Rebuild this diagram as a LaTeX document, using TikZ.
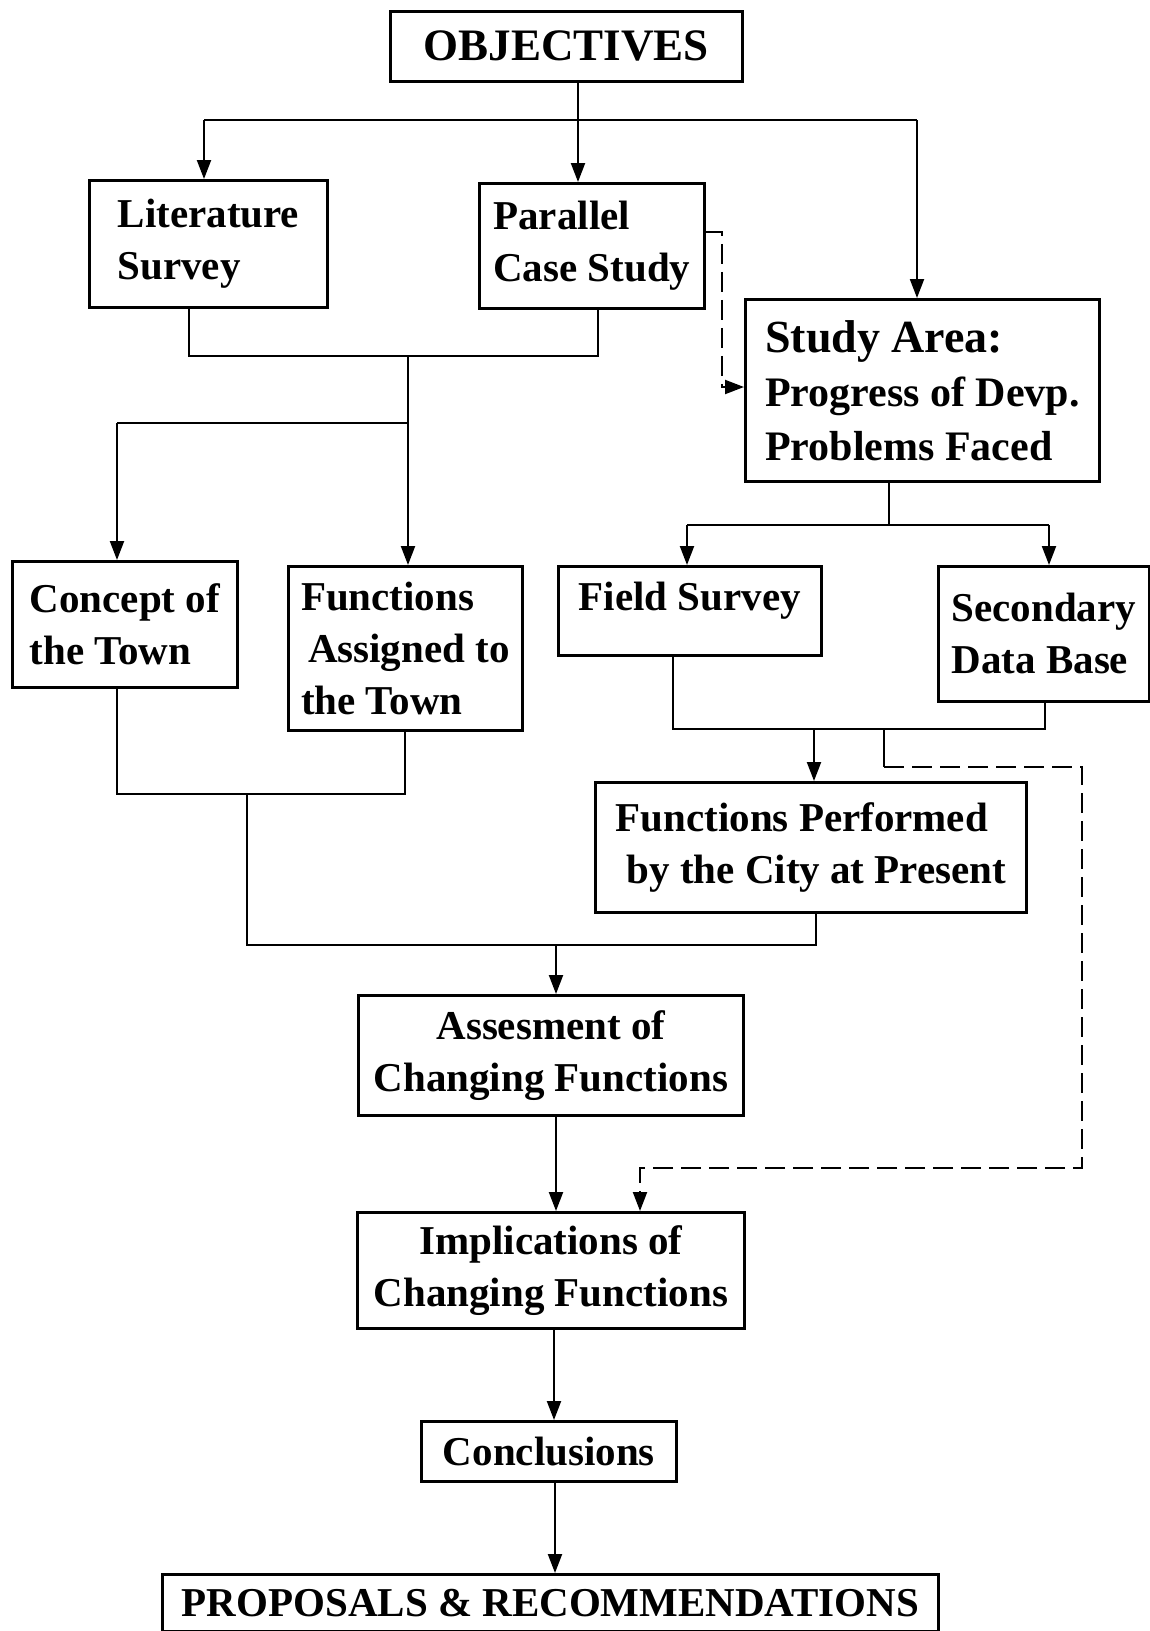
\documentclass[tikz,border=0pt]{standalone}
\usepackage{fontspec}
\setmainfont{Liberation Serif}
\usetikzlibrary{arrows.meta}
\begin{document}
\begin{tikzpicture}[x=1pt,y=-1pt,
  box/.style={draw, line width=2.8pt, inner sep=0pt, anchor=north west, align=left,
    font=\bfseries\fontsize{41}{52}\selectfont},
  conn/.style={line width=2.1pt},
  arr/.style={conn, -{Triangle[length=19pt,width=14pt]}},
  dline/.style={line width=2.1pt, dash pattern=on 20pt off 8pt}
]
\useasboundingbox (0,0) rectangle (1150,1631);
\fill[white] (0,0) rectangle (1150,1631);

% boxes
\node[box, minimum width=352pt, minimum height=70pt, font=\bfseries\fontsize{45}{52}\selectfont] (obj) at (389,10) {OBJECTIVES};
\node[box, minimum width=238pt, minimum height=127pt] (lit) at (88,179) {Literature\\Survey};
\node[box, minimum width=225pt, minimum height=125pt] (par) at (478,182) {Parallel\\Case Study};
\node[box, minimum width=354pt, minimum height=182pt, font=\bfseries\fontsize{42}{54}\selectfont] (study) at (744,298)
  {{\fontsize{46}{54}\selectfont Study Area:}\\Progress of Devp.\\Problems Faced};
\node[box, minimum width=225pt, minimum height=126pt] (concept) at (11,560) {Concept of\\the Town};
\node[box, minimum width=234pt, minimum height=164pt] (fassign) at (287,565) {Functions\\\hspace{7pt}Assigned to\\the Town};
\node[box, minimum width=263pt, minimum height=89pt] (field) at (557,565) {\raisebox{30pt}{Field Survey}};
\node[box, minimum width=211pt, minimum height=135pt] (second) at (937,565) {Secondary\\Data Base};
\node[box, minimum width=431pt, minimum height=130pt] (fperf) at (594,781) {Functions Performed\\\hspace{11pt}by the City at Present};
\node[box, minimum width=385pt, minimum height=120pt, align=center] (assess) at (357,994) {Assesment of\\Changing Functions};
\node[box, minimum width=387pt, minimum height=116pt, align=center] (impl) at (356,1211) {Implications of\\Changing Functions};
\node[box, minimum width=255pt, minimum height=60pt, align=center] (concl) at (420,1420) {Conclusions};
\node[box, minimum width=776pt, minimum height=57pt, align=center] (prop) at (161,1573) {PROPOSALS \& RECOMMENDATIONS};

% junction coordinates
\coordinate (j1l) at (204,120);
\coordinate (j1r) at (917,120);
\coordinate (j2) at (408,356);
\coordinate (j3) at (408,423);
\coordinate (j4) at (889,525);
\coordinate (j5) at (814,729);
\coordinate (j6) at (247,794);
\coordinate (j7) at (556,945);

% objectives
\draw[arr] (578,0 |- obj.south) -- (578,0 |- par.north);
\draw[conn] (j1l) -- (j1r);
\draw[arr] (j1l) -- (j1l |- lit.north);
\draw[arr] (j1r) -- (j1r |- study.north);

% parallel -> study (dashed)
\draw[dline, -{Triangle[length=19pt,width=14pt]}] (par.east |- 0,232) -- (722,232) -- (722,387) -- (study.west |- 0,387);

% lit/par merge
\draw[conn] (189,0 |- lit.south) -- (189,356) -- (598,356) -- (598,0 |- par.south);
\draw[conn] (j2) -- (j3);
\draw[conn] (117,423) -- (j3);
\draw[arr] (117,423) -- (117,0 |- concept.north);
\draw[arr] (j3) -- (j3 |- fassign.north);

% study area branch
\draw[conn] (j4 |- study.south) -- (j4);
\draw[conn] (687,525) -- (1049,525);
\draw[arr] (687,525) -- (687,0 |- field.north);
\draw[arr] (1049,525) -- (1049,0 |- second.north);

% field/secondary merge
\draw[conn] (673,0 |- field.south) -- (673,729) -- (1045,729) -- (1045,0 |- second.south);
\draw[arr] (j5) -- (j5 |- fperf.north);

% dashed route to implications
\draw[conn] (884,729) -- (884,767);
\draw[dline, -{Triangle[length=19pt,width=14pt]}] (884,767) -- (1082,767) -- (1082,1168) -- (640,1168) -- (640,0 |- impl.north);

% concept/assigned merge
\draw[conn] (117,0 |- concept.south) -- (117,794) -- (405,794) -- (405,0 |- fassign.south);
\draw[conn] (j6) -- (247,945) -- (816,945) -- (816,0 |- fperf.south);
\draw[arr] (j7) -- (j7 |- assess.north);

% main chain
\draw[arr] (556,0 |- assess.south) -- (556,0 |- impl.north);
\draw[arr] (554,0 |- impl.south) -- (554,0 |- concl.north);
\draw[arr] (555,0 |- concl.south) -- (555,0 |- prop.north);
\end{tikzpicture}
\end{document}
